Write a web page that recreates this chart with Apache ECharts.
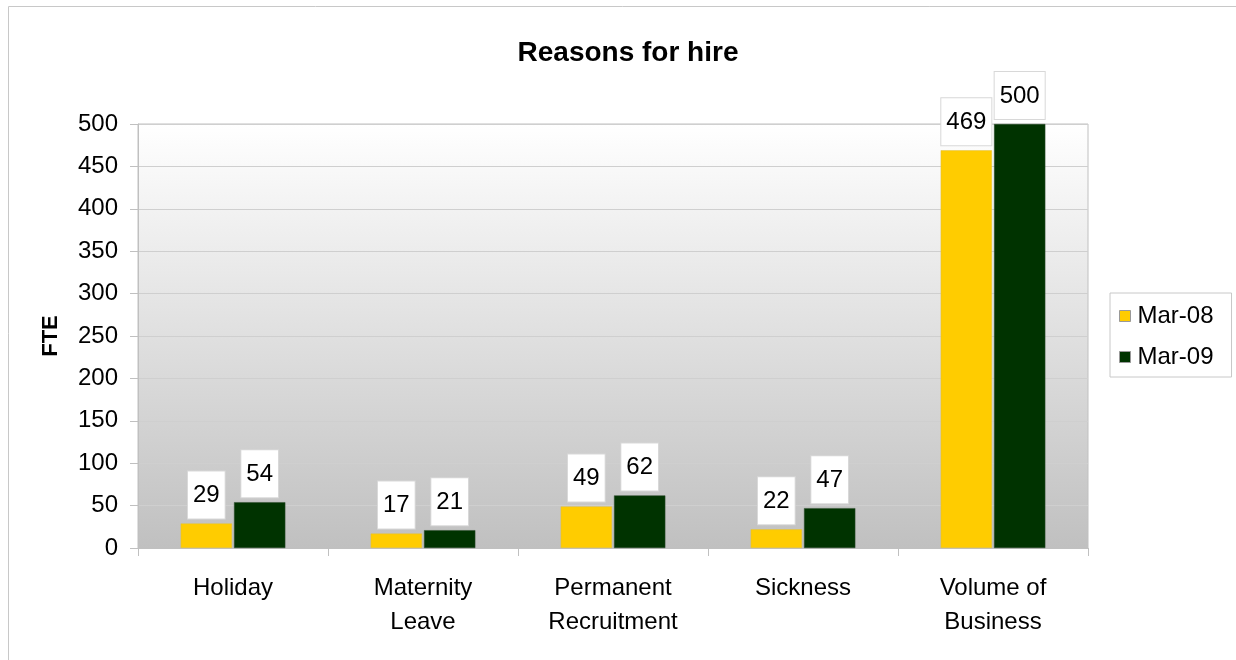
<!DOCTYPE html>
<html>
<head>
<meta charset="utf-8">
<script src="https://cdn.jsdelivr.net/npm/echarts@6/dist/echarts.min.js"></script>
<style>
  html, body { margin: 0; padding: 0; background: #ffffff; }
  #chart { width: 1236px; height: 660px; }
</style>
</head>
<body>
<div id="chart"></div>
<script>
// Hiring reasons, full-time equivalents by period
const categories = ['Holiday', 'Maternity\nLeave', 'Permanent\nRecruitment', 'Sickness', 'Volume of\nBusiness'];
const mar08 = [29, 17, 49, 22, 469];
const mar09 = [54, 21, 62, 47, 500];
const seriesNames = ['Mar-08', 'Mar-09'];
const yTicks = { min: 0, max: 500, interval: 50 };

const FONT = '"Liberation Sans", Arial, sans-serif';

const valueLabel = {
  show: true,
  position: 'top',
  distance: 5,
  color: '#000',
  fontFamily: FONT,
  fontSize: 24,
  lineHeight: 24,
  backgroundColor: '#ffffff',
  borderColor: '#d8d8d8',
  borderWidth: 1,
  padding: [12, 5, 11, 5]
};

const chart = echarts.init(document.getElementById('chart'));
chart.setOption({
  animation: false,
  textStyle: { fontFamily: FONT },
  graphic: [{
    type: 'rect',
    shape: { x: 8.5, y: 6.5, width: 1300, height: 700 },
    style: { fill: 'none', stroke: '#c8c8c8', lineWidth: 1 },
    silent: true,
    z: -10
  }],
  title: {
    text: 'Reasons for hire',
    left: 623,
    textAlign: 'center',
    top: 34,
    textStyle: { fontFamily: FONT, fontSize: 28, fontWeight: 'bold', color: '#000' }
  },
  legend: {
    orient: 'vertical',
    left: 1110,
    top: 293,
    padding: [11, 18, 8, 9],
    itemGap: 17,
    itemWidth: 11,
    itemHeight: 11,
    icon: 'rect',
    borderColor: '#c8c8c8',
    borderWidth: 1,
    backgroundColor: '#ffffff',
    textStyle: { fontFamily: FONT, fontSize: 24, color: '#000', padding: [0, 0, 0, 2] },
    itemStyle: { borderColor: '#999999', borderWidth: 1 },
    data: seriesNames
  },
  grid: {
    left: 138,
    right: 148,
    top: 124,
    bottom: 112,
    show: true,
    borderColor: '#c0c0c0',
    borderWidth: 1,
    backgroundColor: new echarts.graphic.LinearGradient(0, 0, 0, 1, [
      { offset: 0, color: '#ffffff' },
      { offset: 1, color: '#c0c0c0' }
    ])
  },
  xAxis: {
    type: 'category',
    data: categories,
    boundaryGap: true,
    axisLine: { show: true, lineStyle: { color: '#c0c0c0', width: 1 } },
    axisTick: { show: true, length: 8, lineStyle: { color: '#c0c0c0' } },
    axisLabel: {
      color: '#000',
      fontFamily: FONT,
      fontSize: 24,
      lineHeight: 34,
      margin: 23,
      interval: 0
    },
    splitLine: { show: false }
  },
  yAxis: {
    type: 'value',
    min: yTicks.min,
    max: yTicks.max,
    interval: yTicks.interval,
    name: 'FTE',
    nameLocation: 'middle',
    nameGap: 76,
    nameRotate: 90,
    nameTextStyle: { fontFamily: FONT, fontSize: 22, fontWeight: 'bold', color: '#000' },
    axisLine: { show: true, lineStyle: { color: '#c0c0c0', width: 1 } },
    axisTick: { show: true, length: 8, lineStyle: { color: '#c0c0c0' } },
    axisLabel: { color: '#000', fontFamily: FONT, fontSize: 24, margin: 20 },
    splitLine: { show: true, lineStyle: { color: '#cfcfcf', width: 1 } }
  },
  series: [
    {
      name: seriesNames[0],
      type: 'bar',
      data: mar08,
      barWidth: '27%',
      barGap: '4%',
      itemStyle: { color: '#ffcc00', borderColor: '#e0c040', borderWidth: 0.5 },
      label: valueLabel
    },
    {
      name: seriesNames[1],
      type: 'bar',
      data: mar09,
      barWidth: '27%',
      itemStyle: { color: '#003300', borderColor: '#2a4a2a', borderWidth: 0.5 },
      label: valueLabel
    }
  ]
});
</script>
</body>
</html>
